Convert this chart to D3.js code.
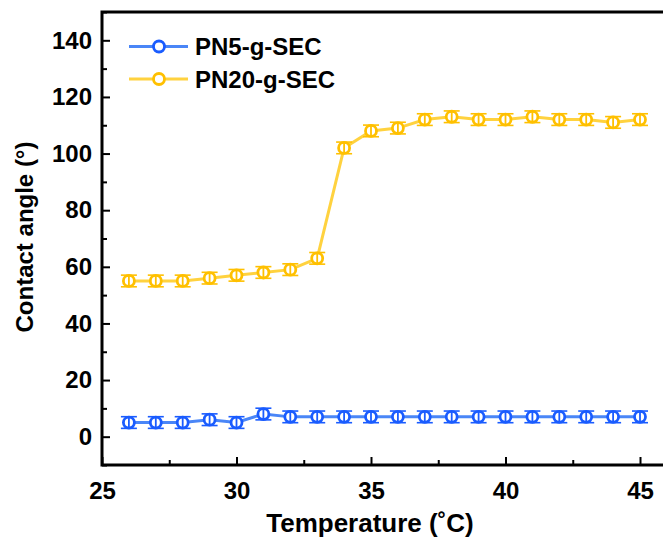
<!DOCTYPE html>
<html>
<head>
<style>
  body { margin: 0; background: #fff; }
  text { font-family: Arial, "Liberation Sans", sans-serif; font-weight: bold; }
</style>
</head>
<body>
<svg></svg>
<script src="https://d3js.org/d3.v7.min.js"></script>
<script>
  const temps = [26, 27, 28, 29, 30, 31, 32, 33, 34, 35, 36, 37, 38, 39, 40, 41, 42, 43, 44, 45];
  const pn5 = [5, 5, 5, 6, 5, 8, 7, 7, 7, 7, 7, 7, 7, 7, 7, 7, 7, 7, 7, 7];
  const pn20 = [55, 55, 55, 56, 57, 58, 59, 63, 102, 108, 109, 112, 113, 112, 112, 113, 112, 112, 111, 112];
  const errBar = 1.0;
  const names = ["PN5-g-SEC", "PN20-g-SEC"];
  const xTicks = [25, 30, 35, 40, 45];
  const yTicks = [0, 20, 40, 60, 80, 100, 120, 140];

  const width = 663, height = 541;
  const mLeft = 102, mTop = 12, mBottom = 465;

  const svg = d3.select("svg").attr("width", width).attr("height", height);

  const x = d3.scaleLinear().domain([25, 46]).range([mLeft, mLeft + 21 * 26.9]);
  const y = d3.scaleLinear().domain([-10, 150]).range([mBottom, mTop]);

  const series = [
    { name: names[0], values: pn5, line: "#4a86f7", mark: "#1a5cff" },
    { name: names[1], values: pn20, line: "#ffd23f", mark: "#ffc000" }
  ];

  // lines + markers
  series.forEach(s => {
    const pts = temps.map((t, i) => [t, s.values[i]]);
    svg.append("path")
      .datum(pts)
      .attr("fill", "none")
      .attr("stroke", s.line)
      .attr("stroke-width", 3)
      .attr("d", d3.line().x(d => x(d[0])).y(d => y(d[1])));

    const g = svg.selectAll(null).data(pts).enter().append("g")
      .attr("transform", d => "translate(" + x(d[0]) + "," + y(d[1]) + ")");

    const e = y(0) - y(errBar) + 3;
    g.append("line")
      .attr("x1", -8).attr("x2", 8).attr("y1", -e).attr("y2", -e)
      .attr("stroke", s.mark).attr("stroke-width", 1.6);
    g.append("line")
      .attr("x1", -8).attr("x2", 8).attr("y1", e).attr("y2", e)
      .attr("stroke", s.mark).attr("stroke-width", 1.6);
    g.append("circle")
      .attr("r", 5.5)
      .attr("fill", "#fff")
      .attr("stroke", s.mark)
      .attr("stroke-width", 2.8);
    g.append("line")
      .attr("y1", -e).attr("y2", e)
      .attr("stroke", s.mark).attr("stroke-width", 1.8);
  });

  // axes
  const xAxis = d3.axisBottom(x).tickValues(xTicks).tickSize(-8).tickPadding(17).tickFormat(d3.format("d"));
  const xg = svg.append("g").attr("transform", "translate(0," + mBottom + ")").call(xAxis);
  const xMinor = d3.axisBottom(x).tickValues(d3.range(27.5, 46, 5)).tickSize(-5).tickFormat("");
  const xmg = svg.append("g").attr("transform", "translate(0," + mBottom + ")").call(xMinor);

  const yAxis = d3.axisLeft(y).tickValues(yTicks).tickSize(-8).tickPadding(10);
  const yg = svg.append("g").attr("transform", "translate(" + mLeft + ",0)").call(yAxis);
  const yMinor = d3.axisLeft(y).tickValues(d3.range(-10, 151, 20)).tickSize(-5).tickFormat("");
  const ymg = svg.append("g").attr("transform", "translate(" + mLeft + ",0)").call(yMinor);

  [xg, xmg, yg, ymg].forEach(a => {
    a.select(".domain").remove();
    a.selectAll(".tick line").attr("stroke", "#000").attr("stroke-width", 2);
    a.selectAll("text").attr("font-size", 24).attr("fill", "#000")
      .style("font-family", "Arial, 'Liberation Sans', sans-serif").style("font-weight", "bold");
  });
  xg.selectAll("text").attr("dy", "0.71em");

  // frame (left, bottom, top; right edge falls off the page)
  svg.append("path")
    .attr("d", "M" + width + "," + mTop + "H" + mLeft + "V" + mBottom + "H" + width)
    .attr("fill", "none").attr("stroke", "#000").attr("stroke-width", 3);

  // axis titles
  svg.append("text")
    .attr("x", 370).attr("y", 532)
    .attr("text-anchor", "middle")
    .attr("font-size", 26)
    .text("Temperature (˚C)");
  svg.append("text")
    .attr("transform", "translate(33,237) rotate(-90)")
    .attr("text-anchor", "middle")
    .attr("font-size", 24)
    .text("Contact angle (°)");

  // legend
  const lg = svg.selectAll(".lg").data(series).enter().append("g")
    .attr("transform", (d, i) => "translate(129," + (46.5 + i * 32.5) + ")");
  lg.append("line").attr("x1", 0).attr("x2", 59)
    .attr("stroke", d => d.line).attr("stroke-width", 3);
  lg.append("circle").attr("cx", 30).attr("r", 5.5)
    .attr("fill", "#fff").attr("stroke", d => d.mark).attr("stroke-width", 2.8);
  lg.append("text").attr("x", 66).attr("y", 8.5)
    .attr("font-size", 24).text(d => d.name);
</script>
</body>
</html>
